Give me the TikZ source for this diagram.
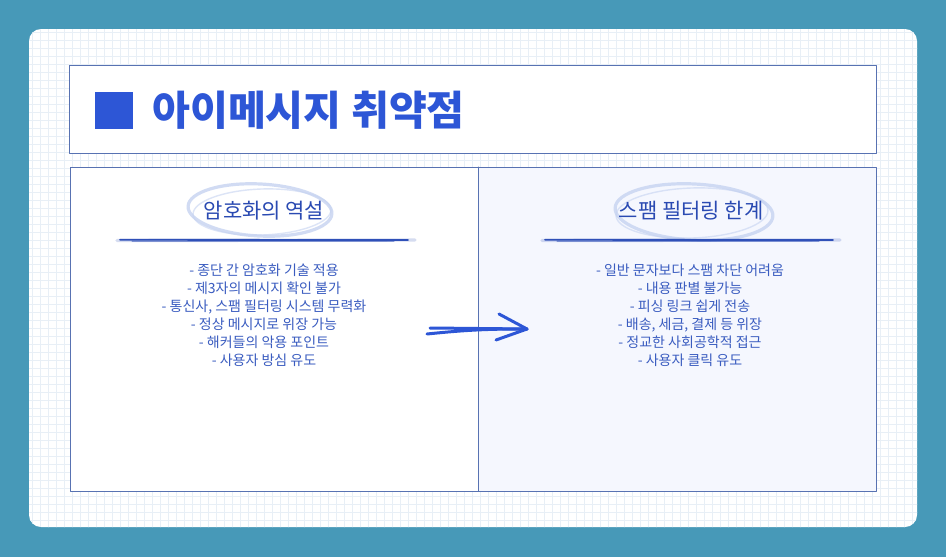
\documentclass[tikz,border=0pt]{standalone}
\usepackage{fontspec}
\setmainfont{Noto Sans CJK KR}
\definecolor{bgteal}{HTML}{4799B8}
\definecolor{gridcol}{HTML}{E8EFF6}
\definecolor{framecol}{HTML}{5872B2}
\definecolor{titlecol}{HTML}{2D56D6}
\definecolor{headcol}{HTML}{2A4AB2}
\definecolor{listcol}{HTML}{3A5CC0}
\definecolor{ringcol}{HTML}{C6D3F1}
\definecolor{brushcol}{HTML}{2F50B8}
\definecolor{panelfill}{HTML}{F5F7FE}
\begin{document}
\begin{tikzpicture}[x=1pt, y=-1pt, line cap=round, line join=round, font=\fontsize{14}{18}\selectfont]
	\tikzset{frame/.style={draw=framecol, line width=1pt},
		head/.style={font=\fontsize{21}{24}\selectfont, text=headcol, inner sep=0pt},
		list/.style={align=center, text=listcol, font=\fontsize{14}{18}\selectfont},
		ring/.style={draw=ringcol, line width=3.2pt},
		brush/.style={draw=brushcol, line width=1.8pt},
		pen/.style={draw=titlecol, line width=3pt}}
	\useasboundingbox (0,0) rectangle (946,557);
	\fill[bgteal] (0,0) rectangle (946,557);
	\fill[white, rounded corners=12pt] (29,29) rectangle (917,527);
	\begin{scope}
		\clip[rounded corners=12pt] (29,29) rectangle (917,527);
		\draw[gridcol, line width=0.6pt, step=8pt] (29,29) grid (917,527);
	\end{scope}
	% title bar
	\draw[frame, fill=white] (69,65) rectangle (876,153);
	\fill[titlecol] (95,92) rectangle (133,129);
	\node[anchor=west, inner sep=0pt, text=titlecol, font=\bfseries\fontsize{40}{42}\selectfont] (title) at (152,110.5) {\scalebox{1.03}[1.02]{아이메시지 취약점}};
	% two panels
	\fill[white] (70,167) rectangle (478,491);
	\fill[panelfill] (478,167) rectangle (876,491);
	\draw[frame] (70,167) rectangle (876,491);
	\draw[frame] (478,167) -- (478,491);
	% left column
	\draw[ring, opacity=0.8, rotate around={-3:(260,210)}] (260,210) ellipse [x radius=72, y radius=26];
	\draw[ring, line width=1.4pt, opacity=0.6, rotate around={2:(262,212)}] (262,212) ellipse [x radius=69, y radius=23];
	\node[head] (crypto) at (264,211) {암호화의 역설};
	\draw[brush, line width=3.4pt, opacity=0.2] (117,240.5) -- (415,240);
	\draw[brush] (120,239.8) -- (408,240);
	\draw[brush, line width=1pt, opacity=0.8] (132,241.2) -- (394,241);
	% left list
	\node[list] (cryptolist) at (264,315) {- 종단 간 암호화 기술 적용\\- 제3자의 메시지 확인 불가\\- 통신사, 스팸 필터링 시스템 무력화\\- 정상 메시지로 위장 가능\\- 해커들의 악용 포인트\\- 사용자 방심 유도};
	% right column
	\draw[ring, opacity=0.8, rotate around={-3:(694,212)}] (694,212) ellipse [x radius=79, y radius=28];
	\draw[ring, line width=1.4pt, opacity=0.6, rotate around={2:(692,213)}] (692,213) ellipse [x radius=76, y radius=25];
	\node[head] (spam) at (691,211) {스팸 필터링 한계};
	\draw[brush, line width=3.4pt, opacity=0.2] (542,240.5) -- (840,240);
	\draw[brush] (545,239.8) -- (833,240);
	\draw[brush, line width=1pt, opacity=0.8] (557,241.2) -- (819,241);
	% right list
	\node[list] (spamlist) at (690,315) {- 일반 문자보다 스팸 차단 어려움\\- 내용 판별 불가능\\- 피싱 링크 쉽게 전송\\- 배송, 세금, 결제 등 위장\\- 정교한 사회공학적 접근\\- 사용자 클릭 유도};
	% hand-drawn arrow
	\coordinate (tailA) at (430,328);
	\coordinate (tailB) at (427,334);
	\coordinate (tip) at (527,329);
	\coordinate (barbup) at (499,314);
	\coordinate (barbdown) at (496,340);
	\draw[pen] (tailA) -- (tip);
	\draw[pen] (tailB) to[bend left=3] (tip);
	\draw[pen] (barbup) -- (tip) -- (barbdown);
\end{tikzpicture}
\end{document}
